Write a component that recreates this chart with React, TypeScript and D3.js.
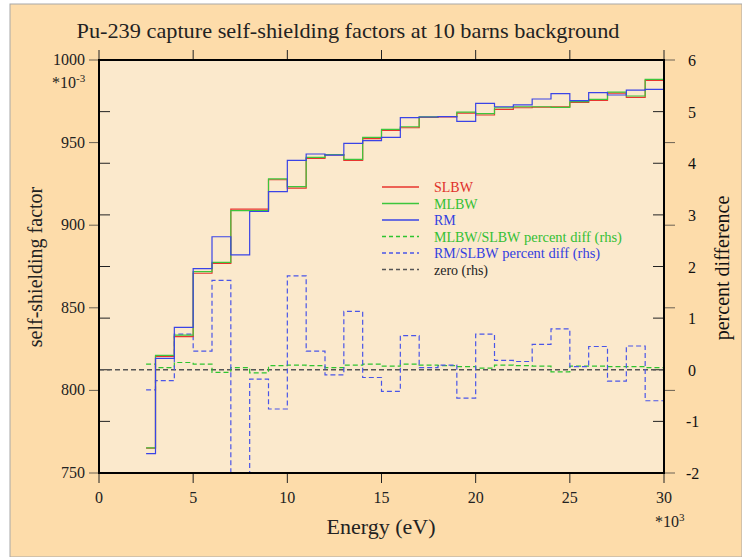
import React from "react";
import * as d3 from "d3";

// Bin edges (keV)
const edges = [2.5, 3, 4, 5, 6, 7, 8, 9, 10, 11, 12, 13, 14, 15, 16, 17, 18, 19, 20, 21, 22, 23, 24, 25, 26, 27, 28, 29, 30];

const slbw = [765.0, 820.6, 832.5, 870.9, 876.9, 909.7, 909.7, 927.5, 922.5, 940.5, 942.6, 939.3, 952.4, 957.4, 959.0, 965.3, 965.5, 967.9, 966.7, 970.1, 971.1, 971.5, 971.7, 974.4, 975.6, 980.0, 977.4, 987.7];
const mlbw = [765.2, 821.2, 833.5, 871.9, 877.5, 908.8, 908.8, 928.1, 923.3, 941.1, 942.8, 939.9, 953.2, 958.0, 959.6, 965.6, 965.8, 968.5, 967.5, 971.1, 971.7, 971.7, 971.3, 974.8, 976.2, 980.6, 978.2, 988.3];
const rm = [761.7, 819.4, 838.2, 873.7, 893.0, 882.0, 908.3, 920.3, 939.3, 943.1, 942.4, 949.5, 951.2, 953.2, 965.1, 965.5, 965.7, 962.9, 973.8, 971.7, 972.8, 976.4, 979.6, 975.4, 980.2, 978.8, 981.8, 982.2];
const mlbwDiff = [0.11, 0.04, 0.14, 0.11, -0.05, 0.04, -0.06, 0.08, 0.09, 0.08, 0.04, 0.09, 0.11, 0.07, 0.11, 0.09, 0.08, 0.06, 0.03, 0.09, 0.08, 0.07, -0.04, 0.07, 0.07, 0.06, 0.06, 0.04];
const rmDiff = [-0.39, -0.21, 0.69, 0.36, 1.73, -3.04, -0.18, -0.76, 1.82, 0.36, -0.10, 1.13, -0.15, -0.42, 0.66, 0.04, 0.09, -0.55, 0.69, 0.18, 0.16, 0.49, 0.79, 0.06, 0.45, -0.22, 0.46, -0.60];

const xTicks = [0, 5, 10, 15, 20, 25, 30];
const yLeftTicks = [750, 800, 850, 900, 950, 1000];
const yRightTicks = [-2, -1, 0, 1, 2, 3, 4, 5, 6];

const legendItems = [
  { label: "SLBW", extra: "", color: "#e8352e", dash: "", textColor: "#e0302a" },
  { label: "MLBW", extra: "", color: "#3cc63c", dash: "", textColor: "#34c034" },
  { label: "RM", extra: "", color: "#3a44e6", dash: "", textColor: "#3340e0" },
  { label: "MLBW/SLBW", extra: " percent diff (rhs)", color: "#2ec42e", dash: "4,3", textColor: "#34c034" },
  { label: "RM/SLBW", extra: " percent diff (rhs)", color: "#4a55e8", dash: "4,3", textColor: "#3340e0" },
  { label: "zero (rhs)", extra: "", color: "#555", dash: "4,3", textColor: "#222" },
];

const FONT = "'Liberation Serif', 'DejaVu Serif', serif";

export default function App() {
  const W = 742, H = 557;
  const L = 99, R = 664, T = 60, B = 473;
  const x = d3.scaleLinear().domain([0, 30]).range([L, R]);
  const yL = d3.scaleLinear().domain([750, 1000]).range([B, T]);
  const yR = d3.scaleLinear().domain([-2, 6]).range([B, T]);

  const stepPts = (vals: number[]) => {
    const pts: [number, number][] = vals.map((v, i) => [edges[i], v]);
    pts.push([edges[edges.length - 1], vals[vals.length - 1]]);
    return pts;
  };
  const lineL = d3.line<[number, number]>().x(d => x(d[0])).y(d => yL(d[1])).curve(d3.curveStepAfter);
  const lineR = d3.line<[number, number]>().x(d => x(d[0])).y(d => yR(d[1])).curve(d3.curveStepAfter);

  return (
    <svg width={W} height={H} style={{ position: "absolute", left: 0, top: 0 }} fontFamily={FONT}>
      <rect x={0} y={0} width={W} height={H} fill="#ffffff" />
      <rect x={10} y={4} width={W - 10} height={H - 4} fill="#fddcaa" stroke="#a8a8a8" strokeWidth={1} />
      <rect x={L} y={T} width={R - L} height={B - T} fill="#fbe9cc" />
      <defs>
        <clipPath id="plotclip">
          <rect x={L} y={T} width={R - L} height={B - T} />
        </clipPath>
      </defs>

      <text x={348} y={38} fontSize={22} textAnchor="middle" fill="#222" textLength={543} lengthAdjust="spacingAndGlyphs">Pu-239 capture self-shielding factors at 10 barns background</text>

      {/* ticks */}
      {xTicks.map(t => (
        <g key={"xt" + t}>
          <line x1={x(t)} x2={x(t)} y1={T - 10} y2={T} stroke="#222" strokeWidth={1} />
          <line x1={x(t)} x2={x(t)} y1={B} y2={B + 10} stroke="#222" strokeWidth={1} />
          <text x={x(t)} y={503} fontSize={16} textAnchor="middle" fill="#222">{t}</text>
        </g>
      ))}
      {yLeftTicks.map(t => (
        <g key={"yl" + t}>
          <line x1={L - 10} x2={L} y1={yL(t)} y2={yL(t)} stroke="#6a6052" strokeWidth={1} />
          <line x1={R} x2={R + 11} y1={yL(t)} y2={yL(t)} stroke="#6a6052" strokeWidth={1} />
          <text x={85} y={yL(t) + 5} fontSize={16} textAnchor="end" fill="#222">{t}</text>
        </g>
      ))}
      {yRightTicks.map(t => (
        <g key={"yr" + t}>
          <line x1={L} x2={L + 11} y1={yR(t)} y2={yR(t)} stroke="#222" strokeWidth={1} />
          <line x1={R - 11} x2={R} y1={yR(t)} y2={yR(t)} stroke="#222" strokeWidth={1} />
          <text x={t < 0 ? 686 : 688} y={yR(t) + 6} fontSize={16} fill="#111">{t < 0 ? "-" + Math.abs(t) : t}</text>
        </g>
      ))}

      <text x={52} y={88} fontSize={16} fill="#222">*10<tspan dy={-6} fontSize={11}>-3</tspan></text>
      <text x={655} y={527} fontSize={16} fill="#222">*10<tspan dy={-6} fontSize={11}>3</tspan></text>

      <text x={381} y={534} fontSize={21} textAnchor="middle" fill="#222" textLength={109} lengthAdjust="spacingAndGlyphs">Energy (eV)</text>
      <text transform={`translate(42,267) rotate(-90)`} fontSize={20} textAnchor="middle" fill="#222">self-shielding factor</text>
      <text transform={`translate(729,268) rotate(-90)`} fontSize={20} textAnchor="middle" fill="#111">percent difference</text>

      {/* data */}
      <g clipPath="url(#plotclip)" fill="none">
        <line x1={L} x2={R} y1={yR(0)} y2={yR(0)} stroke="#555" strokeWidth={1.3} strokeDasharray="5,3" />
        <path d={lineR(stepPts(mlbwDiff)) || ""} stroke="#2ec42e" strokeWidth={1.2} strokeDasharray="5,3" />
        <path d={lineR(stepPts(rmDiff)) || ""} stroke="#4a55e8" strokeWidth={1.2} strokeDasharray="5,3" />
        <path d={lineL(stepPts(slbw)) || ""} stroke="#e8352e" strokeWidth={1.2} />
        <path d={lineL(stepPts(mlbw)) || ""} stroke="#3cc63c" strokeWidth={1.2} />
        <path d={lineL(stepPts(rm)) || ""} stroke="#3a44e6" strokeWidth={1.2} />
      </g>

      {/* legend */}
      {legendItems.map((it, i) => {
        const yy = 187 + i * 16.5;
        return (
          <g key={"lg" + i}>
            <line x1={382} x2={419} y1={yy} y2={yy} stroke={it.color} strokeWidth={1.3} strokeDasharray={it.dash || undefined} />
            <text x={434} y={yy + 5} fontSize={14} fill={it.textColor}>{it.label}<tspan fontSize={14.5}>{it.extra}</tspan></text>
          </g>
        );
      })}

      {/* frame */}
      <rect x={L} y={T} width={R - L} height={B - T} fill="none" stroke="#000" strokeWidth={2} />
    </svg>
  );
}
